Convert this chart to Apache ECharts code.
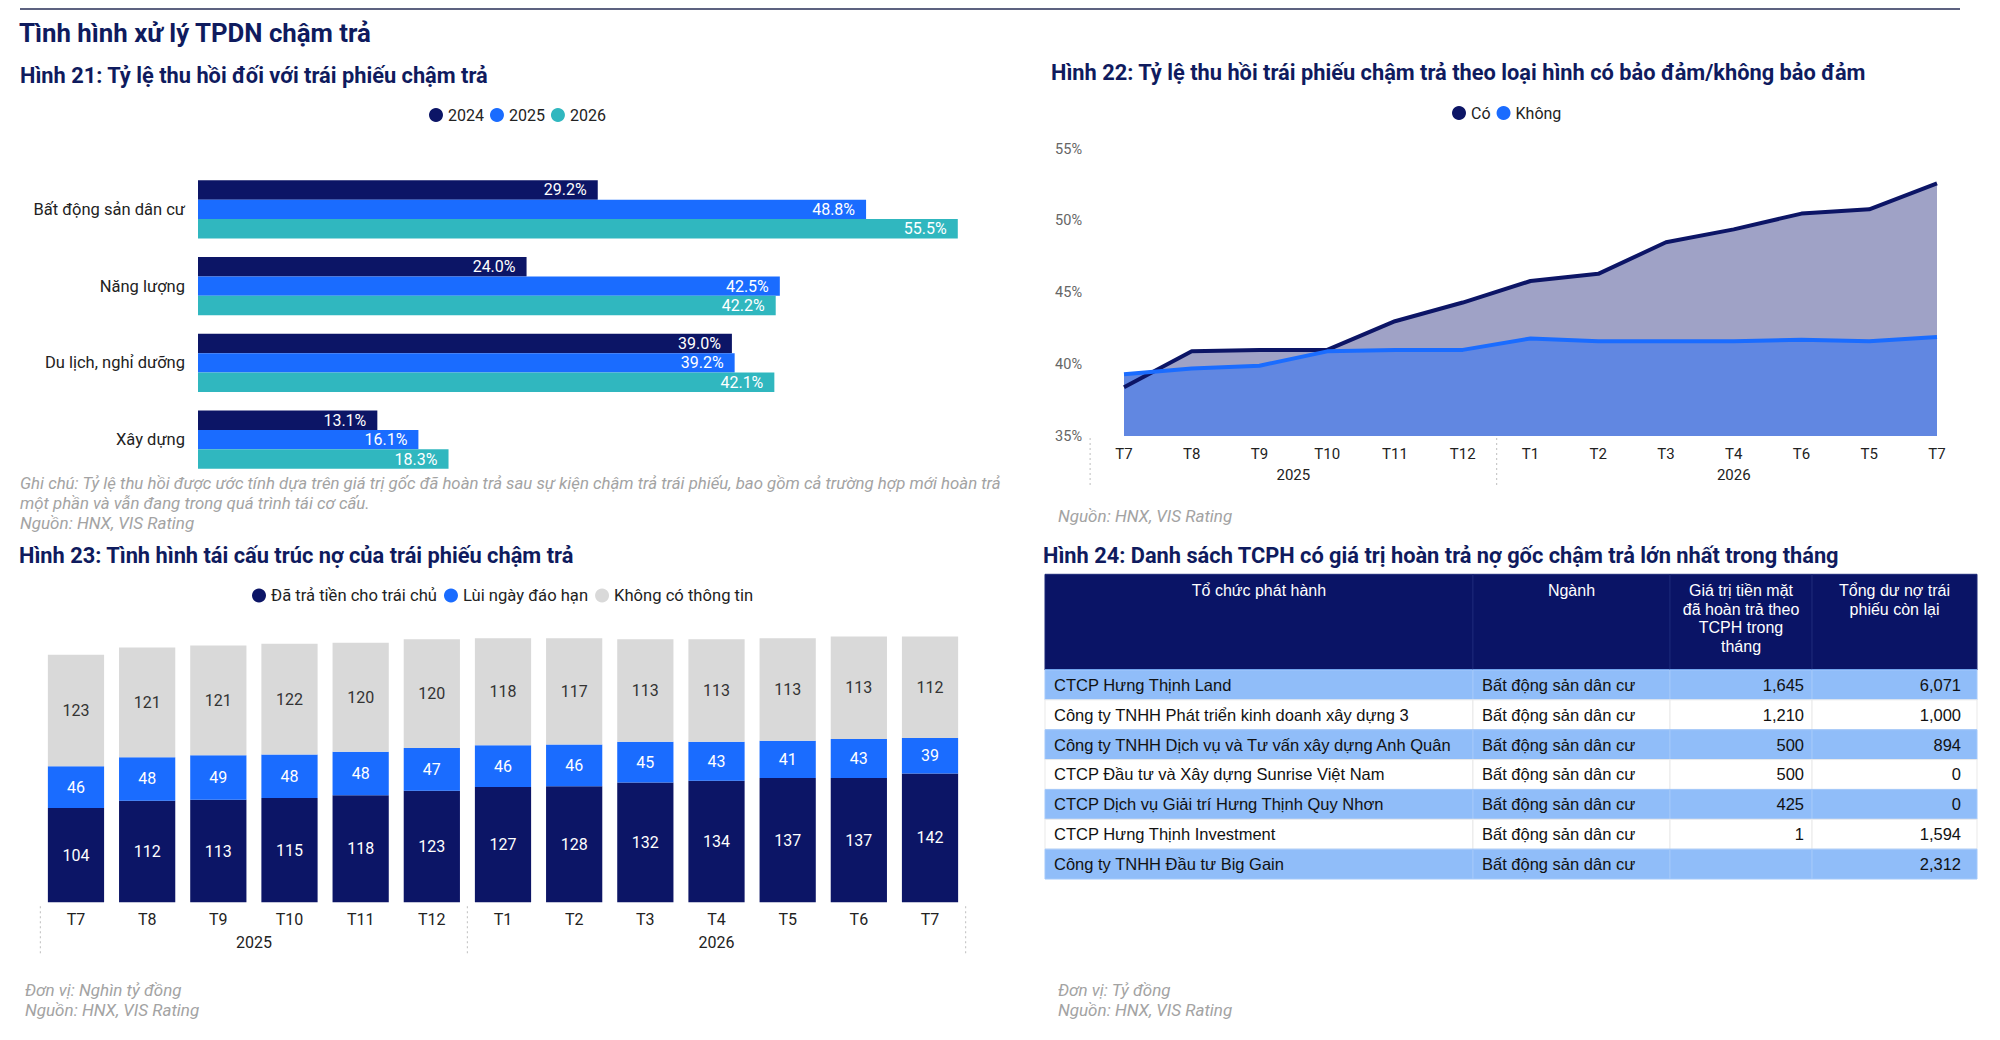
<!DOCTYPE html>
<html><head><meta charset="utf-8">
<script src="https://cdn.jsdelivr.net/npm/echarts@6/dist/echarts.min.js"></script>
<style>html,body{margin:0;padding:0;background:#fff}#c{width:2000px;height:1040px}</style>
</head><body><div id="c"></div>
<script>
// ---------- DATA ----------
// Hình 21
const fig21Categories = ['Bất động sản dân cư', 'Năng lượng', 'Du lịch, nghỉ dưỡng', 'Xây dựng'];
const fig21Series = ['2024', '2025', '2026'];
const fig21Values2024 = [29.2, 24.0, 39.0, 13.1];
const fig21Values2025 = [48.8, 42.5, 39.2, 16.1];
const fig21Values2026 = [55.5, 42.2, 42.1, 18.3];
// Hình 22
const fig22Months = ['T7', 'T8', 'T9', 'T10', 'T11', 'T12', 'T1', 'T2', 'T3', 'T4', 'T6', 'T5', 'T7'];
const fig22Years = ['2025', '2026'];
const fig22YearStart = [0, 6];
const fig22YearEnd = [5, 12];
const fig22Secured = [38.4, 40.9, 41.0, 41.0, 43.0, 44.3, 45.8, 46.3, 48.5, 49.4, 50.5, 50.8, 52.6];
const fig22Unsecured = [39.3, 39.7, 39.9, 40.9, 41.0, 41.0, 41.8, 41.6, 41.6, 41.6, 41.7, 41.6, 41.9];
const fig22YMin = 35, fig22YMax = 55, fig22YStep = 5;
// Hình 23
const fig23Months = ['T7', 'T8', 'T9', 'T10', 'T11', 'T12', 'T1', 'T2', 'T3', 'T4', 'T5', 'T6', 'T7'];
const fig23Years = ['2025', '2026'];
const fig23YearStart = [0, 6];
const fig23YearEnd = [5, 12];
const fig23Paid = [104, 112, 113, 115, 118, 123, 127, 128, 132, 134, 137, 137, 142];
const fig23Extended = [46, 48, 49, 48, 48, 47, 46, 46, 45, 43, 41, 43, 39];
const fig23NoInfo = [123, 121, 121, 122, 120, 120, 118, 117, 113, 113, 113, 113, 112];
// Hình 24
const fig24Headers = ['Tổ chức phát hành', 'Ngành', 'Giá trị tiền mặt\nđã hoàn trả theo\nTCPH trong\ntháng', 'Tổng dư nợ trái\nphiếu còn lại'];
const fig24Issuers = ['CTCP Hưng Thịnh Land', 'Công ty TNHH Phát triển kinh doanh xây dựng 3', 'Công ty TNHH Dịch vụ và Tư vấn xây dựng Anh Quân', 'CTCP Đầu tư và Xây dựng Sunrise Việt Nam', 'CTCP Dịch vụ Giải trí Hưng Thịnh Quy Nhơn', 'CTCP Hưng Thịnh Investment', 'Công ty TNHH Đầu tư Big Gain'];
const fig24Sectors = ['Bất động sản dân cư', 'Bất động sản dân cư', 'Bất động sản dân cư', 'Bất động sản dân cư', 'Bất động sản dân cư', 'Bất động sản dân cư', 'Bất động sản dân cư'];
const fig24CashRepaid = [1645, 1210, 500, 500, 425, 1, null];
const fig24Outstanding = [6071, 1000, 894, 0, 0, 1594, 2312];

// ---------- STYLE / LAYOUT ----------
const NAVY = '#0c1566', BLUE = '#1a6cff', TEAL = '#30b7bf', GREY = '#d9d9d9';
const TITLE_C = '#0f1b5e', NOTE_C = '#a3a3a3';
const FONT = 'Roboto, "Noto Sans", sans-serif';
const TFONT = '"Liberation Sans", Arial, sans-serif';
const tblCols = [0, 0.4592, 0.6706, 0.8230, 1];
const tblHeaderFrac = 0.314;
const tblRowFrac = (1 - tblHeaderFrac) / fig24Issuers.length;

const chart = echarts.init(document.getElementById('c'), null, { renderer: 'svg' });

function txt(text, x, y, font, fill, extra) {
  return { type: 'text', silent: true, style: Object.assign({ text, x, y, font, fill, verticalAlign: 'middle' }, extra || {}) };
}

// year label + separators renderer
function yearRenderer(years, drawEnd, labelOff, sepTop, sepBottom, fontSize) {
  return function (params, api) {
    const i = params.dataIndex;
    const yb = api.value(2);
    const s = api.value(0), e = api.value(1);
    const pL = api.coord([s - 0.5, yb]);
    const pR = api.coord([e + 0.5, yb]);
    const pC = api.coord([(s + e) / 2, yb]);
    const sep = { stroke: '#c8c8c8', lineWidth: 1.2, lineDash: [2, 3] };
    const children = [
      { type: 'text', style: { text: years[i], x: pC[0], y: pC[1] + labelOff, align: 'center', verticalAlign: 'middle', font: fontSize + 'px ' + FONT, fill: '#222' } },
      { type: 'line', shape: { x1: pL[0], y1: pL[1] + sepTop, x2: pL[0], y2: pL[1] + sepBottom }, style: sep }
    ];
    if (drawEnd && i === years.length - 1) {
      children.push({ type: 'line', shape: { x1: pR[0], y1: pR[1] + sepTop, x2: pR[0], y2: pR[1] + sepBottom }, style: sep });
    }
    return { type: 'group', children };
  };
}

// table cells
const tblCells = [];
for (let r = -1; r < fig24Issuers.length; r++) for (let c = 0; c < 4; c++) tblCells.push([c, r]);
const tblColumns = [fig24Issuers, fig24Sectors, fig24CashRepaid, fig24Outstanding];
function fmt(v) { return v == null ? '' : (typeof v === 'number' ? v.toLocaleString('en-US') : v); }

function tableRenderer(params, api) {
  const c = api.value(0), r = api.value(1);
  const y0f = r < 0 ? 0 : tblHeaderFrac + r * tblRowFrac;
  const y1f = r < 0 ? tblHeaderFrac : tblHeaderFrac + (r + 1) * tblRowFrac;
  const p0 = api.coord([tblCols[c], y0f]);
  const p1 = api.coord([tblCols[c + 1], y1f]);
  const x0 = p0[0], y0 = p0[1], x1 = p1[0], y1 = p1[1];
  const children = [];
  if (r < 0) {
    children.push({ type: 'rect', shape: { x: x0, y: y0, width: x1 - x0, height: y1 - y0 }, style: { fill: '#0a1466', stroke: '#1b2777', lineWidth: 1 } });
    children.push({ type: 'line', shape: { x1: x0, y1: y1, x2: x1, y2: y1 }, style: { stroke: '#3b7be0', lineWidth: 2 } });
    children.push({ type: 'text', style: { text: fig24Headers[c], x: (x0 + x1) / 2, y: y0 + 7, align: 'center', verticalAlign: 'top', font: '16px ' + TFONT, fill: '#fff', lineHeight: 18.5 } });
  } else {
    const fill = r % 2 === 0 ? '#90bdf9' : '#ffffff';
    children.push({ type: 'rect', shape: { x: x0, y: y0, width: x1 - x0, height: y1 - y0 }, style: { fill, stroke: r % 2 === 0 ? '#a3c8fa' : '#e9e9e9', lineWidth: 1 } });
    const val = fmt(tblColumns[c][r]);
    const right = c >= 2;
    const pad = c === 3 ? 16 : 8;
    children.push({ type: 'text', style: { text: val, x: right ? x1 - pad : x0 + 9, y: (y0 + y1) / 2, align: right ? 'right' : 'left', verticalAlign: 'middle', font: '16.5px ' + TFONT, fill: '#111' } });
  }
  return { type: 'group', children };
}

const labelWhite = { color: '#fff', fontSize: 16, fontFamily: FONT };
const TF = 'bold 21.8px ' + FONT;
const NF = 'italic 17px ' + FONT;

const option = {
  animation: false,
  backgroundColor: '#fff',
  textStyle: { fontFamily: FONT },
  graphic: [
    { type: 'line', silent: true, shape: { x1: 20, y1: 9, x2: 1960, y2: 9 }, style: { stroke: '#5d6280', lineWidth: 2 } },
    txt('Tình hình xử lý TPDN chậm trả', 19, 33, 'bold 25.8px ' + FONT, TITLE_C),
    txt('Hình 21: Tỷ lệ thu hồi đối với trái phiếu chậm trả', 20, 75, TF, TITLE_C),
    txt('Hình 22: Tỷ lệ thu hồi trái phiếu chậm trả theo loại hình có bảo đảm/không bảo đảm', 1051, 72, TF, TITLE_C),
    txt('Hình 23: Tình hình tái cấu trúc nợ của trái phiếu chậm trả', 19, 555, TF, TITLE_C),
    txt('Hình 24: Danh sách TCPH có giá trị hoàn trả nợ gốc chậm trả lớn nhất trong tháng', 1043, 555, TF, TITLE_C),
    txt('Ghi chú: Tỷ lệ thu hồi được ước tính dựa trên giá trị gốc đã hoàn trả sau sự kiện chậm trả trái phiếu, bao gồm cả trường hợp mới hoàn trả', 20, 483, 'italic 16.8px ' + FONT, NOTE_C),
    txt('một phần và vẫn đang trong quá trình tái cơ cấu.', 20, 503, 'italic 16.8px ' + FONT, NOTE_C),
    txt('Nguồn: HNX, VIS Rating', 20, 523, NF, NOTE_C),
    txt('Nguồn: HNX, VIS Rating', 1058, 516, NF, NOTE_C),
    txt('Đơn vị: Nghìn tỷ đồng', 25, 990, NF, NOTE_C),
    txt('Nguồn: HNX, VIS Rating', 25, 1010, NF, NOTE_C),
    txt('Đơn vị: Tỷ đồng', 1058, 990, NF, NOTE_C),
    txt('Nguồn: HNX, VIS Rating', 1058, 1010, NF, NOTE_C)
  ],
  legend: [
    { data: fig21Series, left: 424, top: 102, icon: 'circle', itemWidth: 14, itemHeight: 14, itemGap: 6, textStyle: { fontSize: 16, color: '#222' } },
    { data: ['Có', 'Không'], left: 1447, top: 100, icon: 'circle', itemWidth: 14, itemHeight: 14, itemGap: 6, textStyle: { fontSize: 16, color: '#222' } },
    { data: ['Đã trả tiền cho trái chủ', 'Lùi ngày đáo hạn', 'Không có thông tin'], left: 247, top: 582, icon: 'circle', itemWidth: 14, itemHeight: 14, itemGap: 7, textStyle: { fontSize: 16.6, color: '#222' } }
  ],
  grid: [
    { left: 198, top: 171, width: 821.4, height: 307 },
    { left: 1124, top: 149, width: 813, height: 287 },
    { left: 40.4, top: 612, width: 925.2, height: 290.3 },
    { left: 1045, top: 574.3, width: 932, height: 304.7 }
  ],
  xAxis: [
    { gridIndex: 0, type: 'value', min: 0, max: 60, show: false },
    { gridIndex: 1, type: 'category', data: fig22Months, boundaryGap: false, axisLine: { show: false }, axisTick: { show: false }, axisLabel: { fontSize: 15, color: '#222', margin: 10, interval: 0 } },
    { gridIndex: 1, type: 'value', min: 0, max: 12, show: false },
    { gridIndex: 2, type: 'category', data: fig23Months, axisLine: { show: false }, axisTick: { show: false }, axisLabel: { fontSize: 16, color: '#222', margin: 9, interval: 0 } },
    { gridIndex: 2, type: 'value', min: -0.5, max: 12.5, show: false },
    { gridIndex: 3, type: 'value', min: 0, max: 1, show: false }
  ],
  yAxis: [
    { gridIndex: 0, type: 'category', data: fig21Categories, inverse: true, axisLine: { show: false }, axisTick: { show: false }, axisLabel: { fontSize: 16.5, color: '#222', margin: 13 } },
    { gridIndex: 1, type: 'value', min: fig22YMin, max: fig22YMax, interval: fig22YStep, splitLine: { show: false }, axisLine: { show: false }, axisTick: { show: false }, axisLabel: { formatter: '{value}%', fontSize: 14.5, color: '#666', margin: 42 } },
    { gridIndex: 2, type: 'value', min: 0, max: 320, show: false },
    { gridIndex: 3, type: 'value', min: 0, max: 1, inverse: true, show: false }
  ],
  series: [
    // Hình 21
    { name: '2024', type: 'bar', xAxisIndex: 0, yAxisIndex: 0, data: fig21Values2024, itemStyle: { color: NAVY }, barGap: '0%', barCategoryGap: '24%',
      label: Object.assign({ show: true, position: 'insideRight', distance: 11, formatter: p => p.value.toFixed(1) + '%' }, labelWhite) },
    { name: '2025', type: 'bar', xAxisIndex: 0, yAxisIndex: 0, data: fig21Values2025, itemStyle: { color: BLUE }, barGap: '0%', barCategoryGap: '24%',
      label: Object.assign({ show: true, position: 'insideRight', distance: 11, formatter: p => p.value.toFixed(1) + '%' }, labelWhite) },
    { name: '2026', type: 'bar', xAxisIndex: 0, yAxisIndex: 0, data: fig21Values2026, itemStyle: { color: TEAL }, barGap: '0%', barCategoryGap: '24%',
      label: Object.assign({ show: true, position: 'insideRight', distance: 11, formatter: p => p.value.toFixed(1) + '%' }, labelWhite) },
    // Hình 22 areas
    { name: 'Có', type: 'line', xAxisIndex: 1, yAxisIndex: 1, data: fig22Secured, showSymbol: false, symbol: 'none', lineStyle: { width: 0 }, itemStyle: { color: NAVY }, areaStyle: { color: '#9fa2c6', opacity: 1 }, z: 1 },
    { name: 'Không', type: 'line', xAxisIndex: 1, yAxisIndex: 1, data: fig22Unsecured, showSymbol: false, symbol: 'none', lineStyle: { width: 0 }, itemStyle: { color: BLUE }, areaStyle: { color: '#6187e1', opacity: 1 }, z: 2 },
    // Hình 22 lines
    { name: 'Có', type: 'line', xAxisIndex: 1, yAxisIndex: 1, data: fig22Secured, showSymbol: false, symbol: 'none', lineStyle: { width: 4, color: NAVY }, itemStyle: { color: NAVY }, z: 3 },
    { name: 'Không', type: 'line', xAxisIndex: 1, yAxisIndex: 1, data: fig22Unsecured, showSymbol: false, symbol: 'none', lineStyle: { width: 4, color: BLUE }, itemStyle: { color: BLUE }, z: 4 },
    { type: 'custom', xAxisIndex: 2, yAxisIndex: 1, silent: true,
      data: fig22Years.map((y, i) => [fig22YearStart[i], fig22YearEnd[i], fig22YMin]),
      renderItem: yearRenderer(fig22Years, false, 39, 2, 52, 15) },
    // Hình 23
    { name: 'Đã trả tiền cho trái chủ', type: 'bar', stack: 'a', xAxisIndex: 3, yAxisIndex: 2, data: fig23Paid, itemStyle: { color: NAVY }, barCategoryGap: '21%',
      label: Object.assign({ show: true, position: 'inside' }, labelWhite) },
    { name: 'Lùi ngày đáo hạn', type: 'bar', stack: 'a', xAxisIndex: 3, yAxisIndex: 2, data: fig23Extended, itemStyle: { color: BLUE }, barCategoryGap: '21%',
      label: Object.assign({ show: true, position: 'inside' }, labelWhite) },
    { name: 'Không có thông tin', type: 'bar', stack: 'a', xAxisIndex: 3, yAxisIndex: 2, data: fig23NoInfo, itemStyle: { color: GREY }, barCategoryGap: '21%',
      label: { show: true, position: 'inside', color: '#333', fontSize: 16 } },
    { type: 'custom', xAxisIndex: 4, yAxisIndex: 2, silent: true,
      data: fig23Years.map((y, i) => [fig23YearStart[i], fig23YearEnd[i], 0]),
      renderItem: yearRenderer(fig23Years, true, 40, 4, 53, 16) },
    // Hình 24 table
    { type: 'custom', xAxisIndex: 5, yAxisIndex: 3, silent: true, data: tblCells, renderItem: tableRenderer }
  ]
};
chart.setOption(option);
</script></body></html>
